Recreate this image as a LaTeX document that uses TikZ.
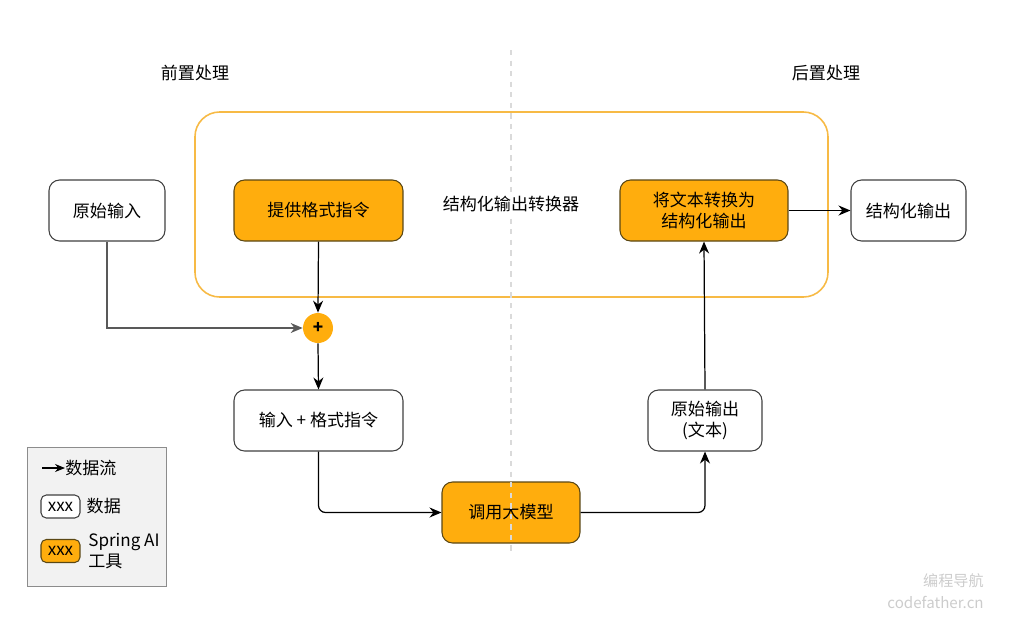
\documentclass[tikz,border=0pt]{standalone}
\usepackage{fontspec}
\setmainfont{Noto Sans CJK SC}
\usetikzlibrary{arrows.meta}

\definecolor{naranja}{HTML}{FFAD0D}
\definecolor{borde}{HTML}{5A4714}
\definecolor{marco}{HTML}{F7BA45}
\definecolor{guia}{HTML}{DADADA}

\tikzset{
  dato/.style={draw=black!75, fill=white, rounded corners=6pt, line width=0.6pt, minimum height=1.22cm, align=center},
  herramienta/.style={dato, draw=borde, fill=naranja},
  flujo/.style={-{Stealth[length=2.4mm,width=2mm]}, line width=0.7pt, rounded corners=4pt},
}

\begin{document}
\begin{tikzpicture}[x=0.02cm, y=-0.02cm, font=\fontsize{9.7}{12}\selectfont]
  \useasboundingbox (0,0) rectangle (1021,623);

  % Titulos
  \node (pre) at (195,73) {前置处理};
  \node (post) at (826,73) {后置处理};

  % Conversor
  \draw[marco, line width=0.9pt, rounded corners=14pt] (195,112) rectangle (828,297);

  \node[dato, minimum width=2.32cm] (orig) at (107,210.5) {原始输入};
  \node[herramienta, minimum width=3.38cm] (fmt) at (318.5,210.5) {提供格式指令};
  \node[herramienta, minimum width=3.36cm] (conv) at (704,210.5) {将文本转换为\\结构化输出};
  \node[dato, minimum width=2.3cm] (out) at (908.5,210.5) {结构化输出};

  \node[circle, fill=naranja, minimum size=0.6cm, inner sep=0pt] (plus) at (318,328) {\textbf{+}};

  \node[dato, minimum width=3.38cm] (inp) at (318.5,420.5) {输入 + 格式指令};
  \node[herramienta, minimum width=2.76cm] (llm) at (511,512.5) {调用大模型};
  \node[dato, minimum width=2.28cm] (raw) at (705,420.5) {原始输出\\(文本)};

  % Linea divisoria
  \draw[guia, dashed, line width=0.8pt] (511,50) -- (511,555);
  \node[fill=white, inner sep=1pt] (label) at (511,204) {结构化输出转换器};

  % Flechas
  \draw[flujo, draw=black!65, line width=0.6pt, rounded corners=0pt] (orig.south) |- (plus.west);
  \draw[flujo] (fmt.south) -- (plus.north);
  \draw[flujo] (plus.south) -- (inp.north);
  \draw[flujo] (inp.south) |- (llm.west);
  \draw[flujo] (llm.east) -| (raw.south);
  \draw[flujo] (raw.north) -- (conv.south);
  \draw[flujo] (conv.east) -- (out.west);

  % Leyenda
  \draw[black!45, fill=black!5] (27,447) rectangle (166,586);
  \coordinate (l1) at (42,468);
  \coordinate (l2) at (65,468);
  \draw[-{Stealth[length=2mm,width=1.6mm]}, line width=0.6pt] (l1) -- (l2);
  \node[anchor=west, inner sep=0pt] (lflujo) at (l2) {数据流};
  \node[dato, minimum width=0.78cm, minimum height=0.46cm, inner sep=0pt, rounded corners=3pt] (ldato) at (60.5,506.5) {xxx};
  \node[anchor=west] (ltxt) at (ldato.east) {数据};
  \node[herramienta, minimum width=0.78cm, minimum height=0.46cm, inner sep=0pt, rounded corners=3pt] (lherr) at (60.5,551) {xxx};
  \node[anchor=west, align=left, inner sep=0pt] (lherrtxt) at (88,551) {Spring AI\\工具};

  % Marca de agua
  \node[anchor=east, black!20, inner sep=0pt, font=\fontsize{8.6}{10}\selectfont] (wm1) at (984,581) {编程导航};
  \node[anchor=east, black!20, inner sep=0pt, font=\fontsize{8.6}{10}\selectfont] (wm2) at (984,602) {codefather.cn};
\end{tikzpicture}
\end{document}
